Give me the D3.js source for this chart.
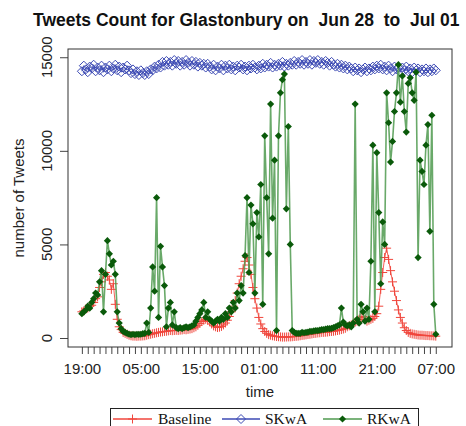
<!DOCTYPE html>
<html>
<head>
<meta charset="utf-8">
<script src="https://cdn.jsdelivr.net/npm/d3@7"></script>
<style>
  body { margin: 0; background: #fff; }
</style>
</head>
<body>
<div id="chart"></div>
<script>
const width = 466;
const height = 426;

// sampling grid: hours since Jun 28 19:00, one sample every 20 min
const hours = d3.range(0, 181).map(i => i / 3);
const tickHours = [0, 10, 20, 30, 40, 50, 60];
const tickLabels = ['19:00', '05:00', '15:00', '01:00', '11:00', '21:00', '07:00'];
const yTicks = [0, 5000, 10000, 15000];

// one row per hour (3 samples)
const baseline = [
  1400, 1450, 1550,   1600, 1700, 1750,   1900, 2100, 2200,   2700, 3000, 3400,
  3500, 3300, 3100,   2600, 2900, 1800,   1000, 600, 450,     300, 250, 200,
  150, 120, 100,      100, 90, 100,       100, 110, 120,      150, 180, 200,
  230, 250, 280,      300, 320, 330,      350, 360, 380,      400, 390, 400,
  410, 400, 420,      430, 450, 440,      460, 480, 500,      550, 600, 680,
  780, 880, 950,      1000, 950, 880,     750, 650, 600,      560, 580, 620,
  700, 800, 950,      1150, 1400, 1700,   2000, 2400, 2900,   3300, 3700, 4100,
  4300, 3900, 3400,   2700, 2100, 1600,   1100, 750, 500,     350, 250, 180,
  150, 120, 100,      80, 70, 60,         50, 50, 55,         60, 60, 70,
  80, 90, 100,        120, 140, 150,      170, 190, 200,      220, 240, 250,
  270, 280, 300,      300, 310, 320,      340, 350, 360,      380, 400, 420,
  450, 480, 520,      600, 650, 700,      780, 850, 900,      1000, 1100, 1150,
  1000, 900, 950,     1000, 1050, 1150,   1300, 1700, 2600,   3500, 4300, 4800,
  4200, 3600, 3000,   2500, 2000, 1500,   1100, 800, 550,     400, 300, 250,
  220, 200, 180,      160, 150, 150,      140, 130, 130,      120, 120, 110,
  100
];

const skwa = [
  14250, 14550, 14350,   14200, 14500, 14400,   14600, 14250, 14450,   14300, 14550, 14200,
  14450, 14350, 14550,   14250, 14400, 14600,   14300, 14500, 14200,   14450, 14350, 14550,
  14300, 14150, 14350,   14100, 14250, 14050,   14300, 14150, 14050,   14250, 14100, 14350,
  14300, 14500, 14400,   14600, 14450, 14750,   14550, 14800, 14600,   14750, 14550, 14850,
  14650, 14800, 14550,   14750, 14600, 14850,   14700, 14550, 14800,   14600, 14750, 14500,
  14700, 14550, 14650,   14450, 14650, 14500,   14350, 14600, 14300,   14500, 14400, 14600,
  14300, 14550, 14400,   14600, 14350, 14500,   14300, 14550, 14450,   14600, 14350, 14500,
  14300, 14550, 14400,   14600, 14450, 14350,   14550, 14400, 14650,   14450, 14600, 14500,
  14700, 14450, 14600,   14500, 14650, 14550,   14750, 14500, 14650,   14550, 14700, 14600,
  14800, 14600, 14750,   14650, 14850, 14600,   14750, 14650, 14850,   14600, 14800, 14700,
  14850, 14650, 14750,   14600, 14800, 14700,   14550, 14750, 14600,   14500, 14650, 14450,
  14600, 14400, 14550,   14350, 14500, 14400,   14250, 14450, 14300,   14400, 14200, 14350,
  14450, 14250, 14400,   14300, 14500, 14350,   14550, 14400, 14600,   14350, 14500, 14300,
  14550, 14400, 14250,   14500, 14350, 14450,   14200, 14450, 14300,   14500, 14250, 14400,
  14200, 14450, 14300,   14400, 14200, 14350,   14250, 14400, 14200,   14350, 14250, 14400,
  14300
];

const rkwa = [
  1300, 1400, 1500,     1700, 1600, 1900,     2100, 2400, 2300,     3000, 3600, 1400,
  3400, 5200, 4500,     3900, 4100, 3400,     1400, 800, 500,       350, 300, 250,
  200, 180, 200,        180, 200, 190,        200, 230, 250,        800, 300, 1600,
  3800, 2500, 7500,     1100, 4900, 3800,     2800, 600, 1600,      1900, 700, 1400,
  550, 500, 550,        500, 550, 600,        550, 600, 650,        700, 900, 1100,
  1300, 1500, 1900,     1100, 1400, 1000,     900, 800, 900,        1000, 900, 1100,
  1000, 1300, 1100,     1600, 1400, 1900,     1600, 2400, 2000,     2800, 2400, 4400,
  7500, 3500, 7100,     6100, 2400, 6700,     5400, 8200, 1800,     10800, 7500, 4500,
  12500, 6400, 9500,    400, 10800, 13100,    13800, 14100, 6900,   11300, 5000, 400,
  300, 250, 250,        250, 300, 280,        300, 320, 350,        350, 380, 400,
  400, 420, 450,        450, 480, 500,        500, 520, 550,        600, 650, 700,
  1600, 850, 700,       650, 700, 600,        800, 12500, 1000,     800, 1800, 1400,
  900, 1600, 1000,      4100, 10300, 1400,    9900, 6700, 2900,     6200, 5000, 13100,
  11500, 9400, 10500,   12100, 13100, 14600,  12600, 14000, 12100,  11000, 13600, 13900,
  13100, 12700, 14200,  4300, 9500, 8900,     8200, 10300, 11400,   5700, 11900, 1800,
  200
];

const red = '#f0463c';
const blue = '#3c4ab4';
const greenLine = '#4f9a4f';
const greenDot = '#0a5a0a';
const sans = '"Liberation Sans", Arial, sans-serif';
const serif = '"Liberation Serif", "Times New Roman", serif';

const svg = d3.select('#chart')
  .append('svg')
  .attr('width', width)
  .attr('height', height)
  .style('font-family', sans);

const x = d3.scaleLinear().domain([-2.35, 62.75]).range([68, 452]);
const y = d3.scaleLinear().domain([-480, 15440]).range([347, 49]);

// title
svg.append('text')
  .attr('x', 33)
  .attr('y', 26)
  .attr('font-size', '17.5px')
  .attr('font-weight', 'bold')
  .attr('fill', '#111')
  .style('white-space', 'pre')
  .text('Tweets Count for Glastonbury on  Jun 28  to  Jul 01');

// x axis, tick every hour, labels every 10 hours
const xAxis = svg.append('g')
  .attr('transform', `translate(0,${y.range()[0]})`)
  .call(d3.axisBottom(x)
    .tickValues(d3.range(0, 61, 1))
    .tickSize(7)
    .tickPadding(9)
    .tickFormat(d => {
      const i = tickHours.indexOf(d);
      return i >= 0 ? tickLabels[i] : '';
    }));
xAxis.select('.domain').remove();
xAxis.selectAll('line').attr('stroke', '#444');
xAxis.selectAll('text')
  .attr('font-size', '15px')
  .attr('fill', '#222')
  .attr('font-family', sans);

// y axis
const yAxis = svg.append('g')
  .attr('transform', `translate(${x.range()[0]},0)`)
  .call(d3.axisLeft(y).tickValues(yTicks).tickSize(8).tickFormat(''));
yAxis.select('.domain').remove();
yAxis.selectAll('line').attr('stroke', '#444');

svg.append('g')
  .selectAll('text')
  .data(yTicks)
  .enter()
  .append('text')
  .attr('transform', d => `translate(52,${y(d)}) rotate(-90)`)
  .attr('text-anchor', 'middle')
  .attr('font-size', '15px')
  .attr('fill', '#222')
  .text(d => d);

// axis titles
svg.append('text')
  .attr('transform', 'translate(24,198) rotate(-90)')
  .attr('text-anchor', 'middle')
  .attr('font-size', '15px')
  .attr('fill', '#222')
  .text('number of Tweets');

svg.append('text')
  .attr('x', 260)
  .attr('y', 397)
  .attr('text-anchor', 'middle')
  .attr('font-size', '15px')
  .attr('fill', '#222')
  .text('time');

// series
const line = d3.line()
  .x(d => x(d[0]))
  .y(d => y(d[1]));

const plus = 'M-4.5,0H4.5M0,-4.5V4.5';
const diamond = 'M0,-4.5L4.5,0L0,4.5L-4.5,0Z';
const smallDiamond = 'M0,-3.6L3.6,0L0,3.6L-3.6,0Z';

const series = [
  { name: 'Baseline', values: baseline, lineColor: red, lineWidth: 1, marker: plus, fill: 'none', stroke: red },
  { name: 'SKwA', values: skwa, lineColor: blue, lineWidth: 1, marker: diamond, fill: 'none', stroke: blue },
  { name: 'RKwA', values: rkwa, lineColor: greenLine, lineWidth: 1.6, marker: smallDiamond, fill: greenDot, stroke: 'none' }
];

series.forEach(s => {
  const pts = hours.map((h, i) => [h, s.values[i]]);
  svg.append('path')
    .datum(pts)
    .attr('d', line)
    .attr('fill', 'none')
    .attr('stroke', s.lineColor)
    .attr('stroke-width', s.lineWidth)
    .attr('stroke-opacity', 0.85);

  svg.append('g')
    .selectAll('path')
    .data(pts)
    .enter()
    .append('path')
    .attr('transform', d => `translate(${x(d[0])},${y(d[1])})`)
    .attr('d', s.marker)
    .attr('fill', s.fill)
    .attr('stroke', s.stroke)
    .attr('stroke-width', 1);
});

// plot box
svg.append('rect')
  .attr('x', x.range()[0])
  .attr('y', y.range()[1])
  .attr('width', x.range()[1] - x.range()[0])
  .attr('height', y.range()[0] - y.range()[1])
  .attr('fill', 'none')
  .attr('stroke', '#333')
  .attr('stroke-width', 1);

// legend
const legend = svg.append('g');
legend.append('rect')
  .attr('x', 110.5)
  .attr('y', 408.5)
  .attr('width', 308)
  .attr('height', 40)
  .attr('fill', '#fff')
  .attr('stroke', '#222')
  .attr('stroke-width', 1);

const legendItems = [
  { s: series[0], x0: 113, x1: 152, tx: 158 },
  { s: series[1], x0: 222, x1: 260, tx: 265 },
  { s: series[2], x0: 323, x1: 362, tx: 367 }
];

legendItems.forEach(item => {
  legend.append('line')
    .attr('x1', item.x0)
    .attr('x2', item.x1)
    .attr('y1', 419)
    .attr('y2', 419)
    .attr('stroke', item.s.lineColor)
    .attr('stroke-width', 1.6);
  legend.append('path')
    .attr('transform', `translate(${(item.x0 + item.x1) / 2},419)`)
    .attr('d', item.s.marker)
    .attr('fill', item.s.fill)
    .attr('stroke', item.s.stroke)
    .attr('stroke-width', 1);
  legend.append('text')
    .attr('x', item.tx)
    .attr('y', 424)
    .attr('font-size', '15.5px')
    .style('font-family', serif)
    .attr('fill', '#111')
    .text(item.s.name);
});
</script>
</body>
</html>
